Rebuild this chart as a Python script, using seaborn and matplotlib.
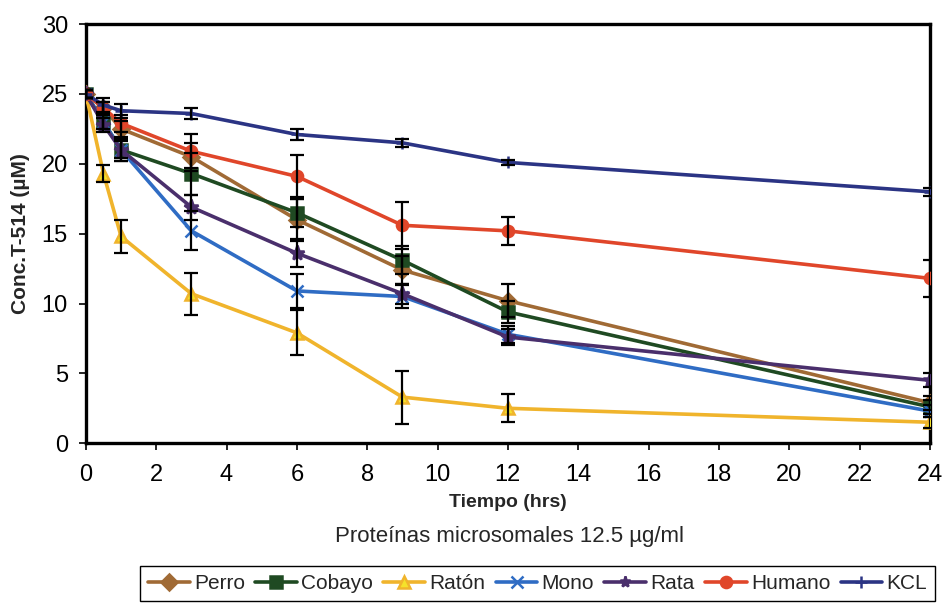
import matplotlib
matplotlib.use("Agg")
import matplotlib.pyplot as plt
import seaborn as sns
import pandas as pd
from matplotlib.lines import Line2D

# Incubation times (hrs)
tiempo = [0, 0.5, 1, 3, 6, 9, 12, 24]

# Mean T-514 concentration (µM) per species / control
perro = [25.0, 24.0, 22.5, 20.5, 16.0, 12.4, 10.2, 2.9]
cobayo = [25.0, 23.0, 21.0, 19.3, 16.5, 13.1, 9.4, 2.6]
raton = [25.0, 19.3, 14.8, 10.7, 7.9, 3.3, 2.5, 1.5]
mono = [25.0, 23.0, 21.0, 15.2, 10.9, 10.5, 7.8, 2.3]
rata = [25.0, 22.8, 21.0, 16.9, 13.6, 10.7, 7.6, 4.5]
humano = [25.0, 24.0, 22.9, 20.9, 19.1, 15.6, 15.2, 11.8]
kcl = [25.0, 24.2, 23.8, 23.6, 22.1, 21.5, 20.1, 18.0]

# Standard deviations
perro_sd = [0.3, 0.4, 0.6, 1.0, 1.5, 1.0, 1.2, 0.5]
cobayo_sd = [0.3, 0.5, 0.6, 1.5, 1.0, 1.0, 0.8, 0.5]
raton_sd = [0.3, 0.6, 1.2, 1.5, 1.6, 1.9, 1.0, 0.4]
mono_sd = [0.3, 0.5, 0.8, 1.4, 1.2, 0.8, 0.6, 0.4]
rata_sd = [0.3, 0.5, 0.8, 0.9, 1.0, 0.7, 0.6, 0.5]
humano_sd = [0.3, 0.4, 0.6, 1.2, 1.5, 1.7, 1.0, 1.3]
kcl_sd = [0.3, 0.5, 0.5, 0.4, 0.4, 0.3, 0.2, 0.3]

nombres = ["Perro", "Cobayo", "Ratón", "Mono", "Rata", "Humano", "KCL"]
valores = [perro, cobayo, raton, mono, rata, humano, kcl]
errores = [perro_sd, cobayo_sd, raton_sd, mono_sd, rata_sd, humano_sd, kcl_sd]

colores = ["#a06a35", "#1f4a22", "#f0b42c", "#2f6cc4", "#4a2f6c", "#e0462a", "#2b3484"]
marcadores = ["D", "s", "^", "x", "*", "o", "+"]
caras = ["#a06a35", "#1f4a22", "#f5e22a", "#2f6cc4", "#4a2f6c", "#e0462a", "#2b3484"]

sns.set_theme(style="white")
plt.rcParams["font.family"] = ["Liberation Sans", "DejaVu Sans"]

fig = plt.figure(figsize=(9.44, 6.03), dpi=100)
ax = fig.add_axes([0.091, 0.265, 0.894, 0.695])

for nombre, v, e, c, m, fc in zip(nombres, valores, errores, colores, marcadores, caras):
    df = pd.DataFrame({"Tiempo": tiempo, "Conc": v})
    sns.lineplot(data=df, x="Tiempo", y="Conc", ax=ax, color=c, linewidth=2.6,
                 marker=m, markersize=8 if m != "*" else 11,
                 markerfacecolor=fc, markeredgecolor=c, markeredgewidth=1.8,
                 zorder=3, legend=False)
    ax.errorbar(tiempo, v, yerr=e, fmt="none", ecolor="black", elinewidth=1.6,
                capsize=5, capthick=1.6, zorder=4)

ax.set_xlim(0, 24)
ax.set_ylim(0, 30)
ax.set_xticks(range(0, 25, 2))
ax.set_yticks(range(0, 31, 5))
ax.tick_params(axis="both", labelsize=17, direction="out", length=5, width=1.2,
               colors="black", bottom=True, left=True)
ax.tick_params(axis="x", pad=10)
ax.tick_params(axis="y", pad=8)
for s in ax.spines.values():
    s.set_color("black")
    s.set_linewidth(2.4)

ax.set_xlabel("Tiempo (hrs)", fontsize=14, fontweight="bold", labelpad=6)
ax.set_ylabel("Conc.T-514 (µM)", fontsize=15, fontweight="bold", labelpad=8)
fig.text(0.54, 0.111, "Proteínas microsomales 12.5 µg/ml", ha="center", va="center",
         fontsize=16)

handles = [Line2D([0], [0], color=c, lw=2.6, marker=m, markersize=8,
                  markerfacecolor=fc, markeredgecolor=c, markeredgewidth=1.8)
           for c, m, fc in zip(colores, marcadores, caras)]
fig.legend(handles, nombres, loc="upper left", bbox_to_anchor=(0.148, 0.062),
           borderaxespad=0, ncol=7, fontsize=15, frameon=True, edgecolor="black",
           fancybox=False, handlelength=2.0, handletextpad=0.2, columnspacing=0.5,
           borderpad=0.4, framealpha=1)

fig.savefig("out.png", dpi=100)
